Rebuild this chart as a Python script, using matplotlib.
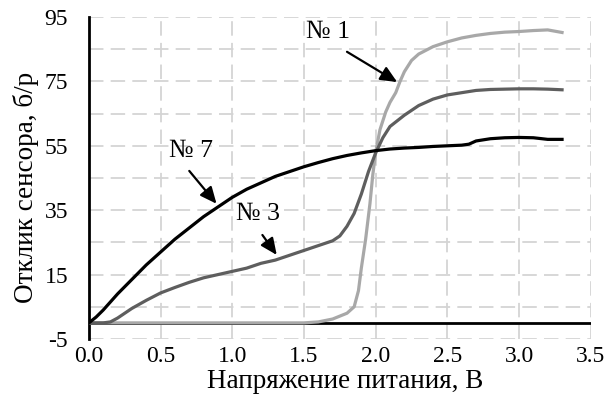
import matplotlib
matplotlib.use("Agg")
import matplotlib.pyplot as plt
from matplotlib.ticker import FixedLocator

# --- data ---
x7 = [0, 0.05, 0.1, 0.15, 0.2, 0.3, 0.4, 0.5, 0.6, 0.7, 0.8, 0.9, 1.0, 1.1, 1.2, 1.3, 1.4, 1.5,
      1.6, 1.7, 1.8, 1.9, 2.0, 2.1, 2.2, 2.3, 2.4, 2.5, 2.6, 2.65, 2.7, 2.8, 2.9,
      3.0, 3.1, 3.2, 3.3]
y7 = [0, 1.8, 4, 6.5, 9, 13.5, 18, 22, 26, 29.5, 33, 36, 39, 41.5, 43.5, 45.5, 47, 48.5,
      49.8, 51, 52, 52.8, 53.5, 54, 54.3, 54.5, 54.8, 55, 55.2, 55.5, 56.5, 57.2, 57.5,
      57.6, 57.5, 57.0, 57.0]

x3 = [0, 0.1, 0.15, 0.2, 0.25, 0.3, 0.4, 0.5, 0.6, 0.7, 0.8, 0.9, 1.0, 1.1, 1.2,
      1.3, 1.4, 1.5, 1.6, 1.7, 1.75, 1.8, 1.85, 1.9, 1.95, 2.0, 2.05, 2.1, 2.2, 2.3,
      2.4, 2.5, 2.6, 2.7, 2.8, 2.9, 3.0, 3.1, 3.2, 3.3]
y3 = [0, 0, 0.3, 1.5, 3, 4.5, 7, 9.3, 11, 12.6, 14, 15, 16, 17, 18.5,
      19.5, 21, 22.5, 24, 25.5, 27, 30, 34, 40, 47, 52.8, 57.5, 61, 64.5, 67.5,
      69.5, 70.8, 71.5, 72.2, 72.5, 72.6, 72.7, 72.7, 72.6, 72.4]

x1 = [0, 0.5, 1.0, 1.5, 1.6, 1.7, 1.8, 1.85, 1.88, 1.9, 1.93, 1.96, 1.98, 2.0, 2.03,
      2.07, 2.1, 2.14, 2.17, 2.2, 2.25, 2.3, 2.4, 2.5, 2.6, 2.7, 2.8, 2.9, 3.0, 3.1,
      3.2, 3.3]
y1 = [0, 0, 0, 0, 0.3, 1.2, 3, 5, 10, 17, 26, 37, 46, 53, 60,
      65.5, 68.5, 71.5, 75, 78, 81.5, 83.5, 85.8, 87.3, 88.5, 89.3, 89.9, 90.3, 90.5, 90.8,
      91, 90.2]

labels = ["№ 7", "№ 3", "№ 1"]
# (text x, text y, arrow tail x, tail y, arrow tip x, tip y)
ann = [(0.71, 53.4, 0.70, 47.2, 0.89, 37.0),
       (1.18, 33.8, 1.21, 27.3, 1.31, 21.1),
       (1.67, 90.4, 1.80, 84.2, 2.15, 74.8)]

xticks = [0.0, 0.5, 1.0, 1.5, 2.0, 2.5, 3.0, 3.5]
yticks = [-5, 15, 35, 55, 75, 95]
yminor = [5, 25, 45, 65, 85]

plt.rcParams['font.family'] = ['Liberation Serif', 'DejaVu Serif']

fig = plt.figure(figsize=(6.09, 3.96), dpi=100)
ax = fig.add_axes([0.146, 0.144, 0.824, 0.813])

ax.set_xlim(0, 3.5)
ax.set_ylim(-5, 95)
ax.set_xticks(xticks)
ax.set_xticklabels([f"{t:.1f}" for t in xticks])
ax.set_yticks(yticks)
ax.set_yticklabels([str(t) for t in yticks])
ax.yaxis.set_minor_locator(FixedLocator(yminor))

gridkw = dict(color='#d4d4d4', linewidth=1.3, linestyle=(0, (8, 4)))
ax.grid(True, which='major', **gridkw)
ax.grid(True, which='minor', axis='y', **gridkw)
ax.set_axisbelow(True)

for s in ['top', 'right', 'bottom']:
    ax.spines[s].set_visible(False)
ax.spines['left'].set_linewidth(2)
ax.spines['left'].set_color('black')
ax.axhline(0, color='black', linewidth=2, zorder=2)

ax.tick_params(which='both', length=0)
ax.tick_params(axis='x', labelsize=17, pad=5)
ax.tick_params(axis='y', labelsize=17, pad=15)

ax.plot(x7, y7, color='black', linewidth=2.3, zorder=5)
ax.plot(x3, y3, color='#5e5e5e', linewidth=2.3, zorder=4)
ax.plot(x1, y1, color='#a8a8a8', linewidth=2.3, zorder=3)

for lab, (tx, ty, ax0, ay0, ax1, ay1) in zip(labels, ann):
    ax.text(tx, ty, lab, fontsize=18.5, ha='center', va='center', zorder=6)
    ax.annotate('', xy=(ax1, ay1), xytext=(ax0, ay0),
                arrowprops=dict(arrowstyle='-|>,head_length=1.0,head_width=0.45',
                                color='black', lw=1.6, shrinkA=0, shrinkB=0),
                zorder=6)

ax.set_xlabel("Напряжение питания, В", fontsize=19.5)
ax.set_ylabel("Отклик сенсора, б/р", fontsize=19.5)
ax.xaxis.label.set_va('center')
ax.yaxis.label.set_va('center')
ax.xaxis.set_label_coords(0.51, -0.132)
ax.yaxis.set_label_coords(-0.125, 0.472)

fig.savefig("out.png", dpi=100)
